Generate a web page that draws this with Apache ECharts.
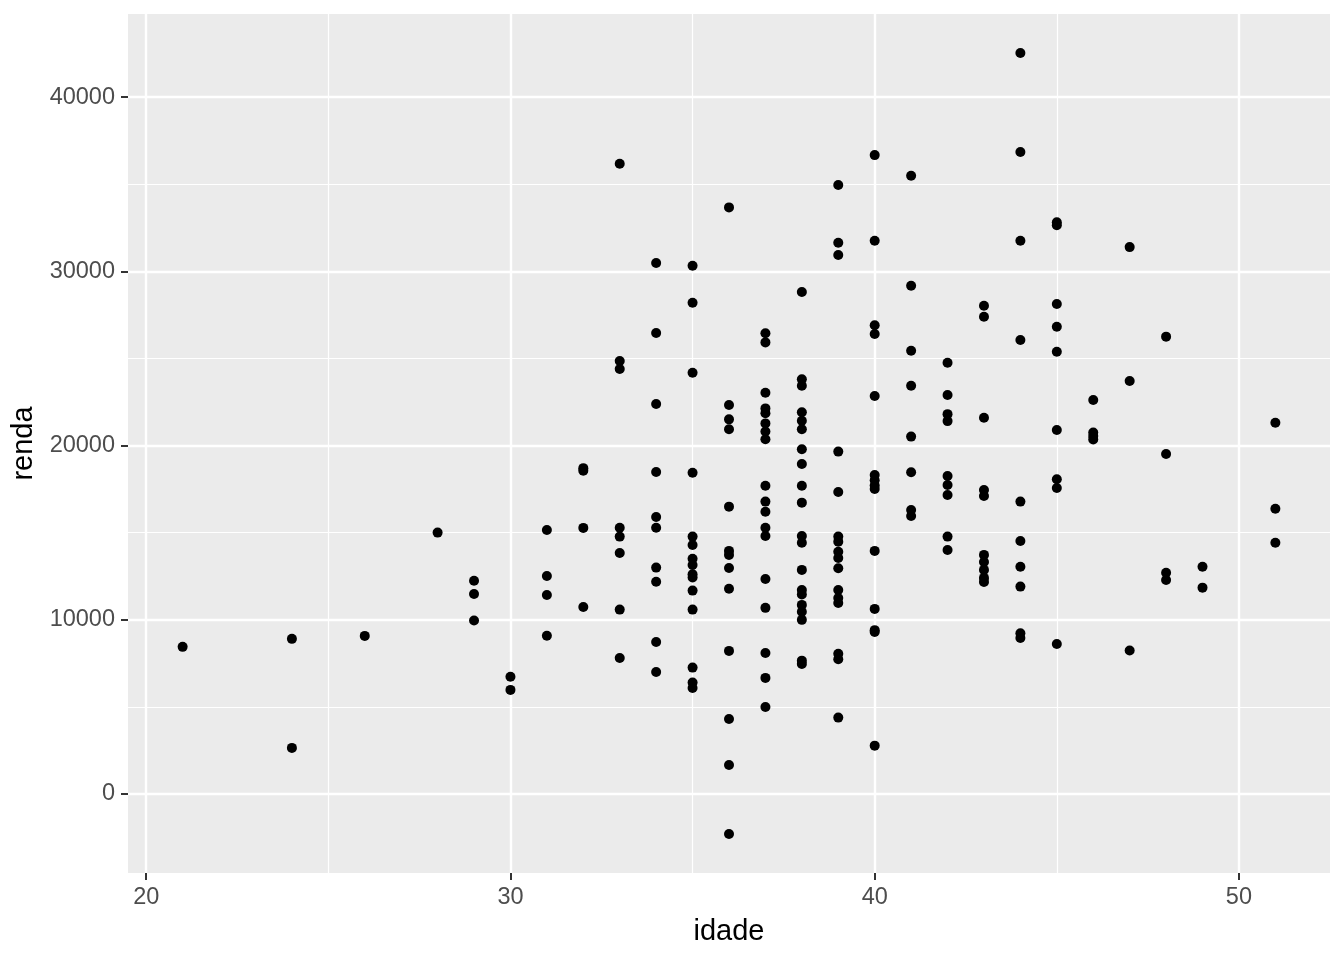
<!DOCTYPE html>
<html>
<head>
<meta charset="utf-8">
<script src="https://cdn.jsdelivr.net/npm/echarts@6/dist/echarts.min.js"></script>
<style>
  html, body { margin: 0; padding: 0; background: #ffffff; }
  #chart { width: 1344px; height: 960px; }
</style>
</head>
<body>
<div id="chart"></div>
<script>
// idade (age) groups and renda (income) values observed at each age
const idades = [21, 24, 26, 28, 29, 30, 31, 32, 33, 34, 35, 36, 37, 38, 39, 40, 41, 42, 43, 44, 45, 46, 47, 48, 49, 51];
const renda21 = [8440];
const renda24 = [8900, 2640];
const renda26 = [9070];
const renda28 = [15000];
const renda29 = [12240, 11480, 9950];
const renda30 = [6730, 5970];
const renda31 = [15150, 12510, 11420, 9080];
const renda32 = [18700, 18550, 15270, 10730];
const renda33 = [36170, 24850, 24390, 15280, 14770, 13830, 10580, 7800];
const renda34 = [30480, 26460, 22380, 18480, 15900, 15280, 12990, 12180, 8720, 7000];
const renda35 = [30320, 28200, 24180, 18440, 14770, 14290, 13500, 13140, 12610, 12420, 11670, 10580, 7250, 6390, 6080];
const renda36 = [33670, 22330, 21500, 20930, 16490, 13950, 13720, 12970, 11780, 8210, 4300, 1660, -2300];
const renda37 = [26440, 25920, 23030, 22130, 21850, 21270, 20800, 20360, 17690, 16780, 16200, 15280, 14810, 12340, 10680, 8090, 6660, 4990];
const renda38 = [28810, 23800, 23430, 21910, 21420, 20930, 19780, 18940, 17690, 16720, 14810, 14420, 12860, 11700, 11450, 10850, 10460, 9990, 7650, 7460];
const renda39 = [34950, 31640, 30940, 19650, 17330, 14770, 14480, 13900, 13540, 12950, 11710, 11250, 10960, 8040, 7730, 4380];
const renda40 = [36670, 31750, 26900, 26400, 22840, 18300, 18000, 17700, 17500, 13950, 10620, 9400, 9300, 2770];
const renda41 = [35490, 29170, 25440, 23430, 20510, 18460, 16300, 15950];
const renda42 = [24750, 22900, 21800, 21400, 18250, 17730, 17160, 14770, 14000];
const renda43 = [28020, 27390, 21590, 17450, 17100, 13720, 13310, 12860, 12400, 12170];
const renda44 = [42530, 36850, 31750, 26060, 16780, 14520, 13040, 11900, 9220, 8950];
const renda45 = [32810, 32650, 28120, 26820, 25380, 20890, 18060, 17560, 8610];
const renda46 = [22610, 20750, 20550, 20350];
const renda47 = [31390, 23700, 8230];
const renda48 = [26250, 19510, 12700, 12280];
const renda49 = [13040, 11840];
const renda51 = [21310, 16370, 14420];

const rendas = [renda21, renda24, renda26, renda28, renda29, renda30, renda31, renda32, renda33, renda34,
  renda35, renda36, renda37, renda38, renda39, renda40, renda41, renda42, renda43, renda44,
  renda45, renda46, renda47, renda48, renda49, renda51];

const xTicks = [20, 30, 40, 50];
const xMinor = [25, 35, 45];
const yTicks = [0, 10000, 20000, 30000, 40000];
const yMinor = [5000, 15000, 25000, 35000];

const points = [];
idades.forEach((age, i) => rendas[i].forEach(v => points.push([age, v])));

const FONT = "'Liberation Sans', Arial, sans-serif";
const X_MIN = 19.5, X_MAX = 52.5, Y_MIN = -4541, Y_MAX = 44771;

const chart = echarts.init(document.getElementById('chart'), null, { renderer: 'canvas' });
chart.setOption({
  animation: false,
  backgroundColor: '#ffffff',
  grid: {
    left: 128, right: 14, top: 14, bottom: 87,
    containLabel: false, outerBoundsMode: 'none',
    show: true, backgroundColor: '#EBEBEB', borderWidth: 0
  },
  xAxis: [
    {
      type: 'value', min: X_MIN, max: X_MAX,
      name: 'idade', nameLocation: 'middle', nameGap: 44,
      nameTextStyle: { fontFamily: FONT, fontSize: 29, color: '#000000' },
      axisLine: { show: false, onZero: false },
      axisTick: { show: true, customValues: xTicks, length: 7, lineStyle: { color: '#333333', width: 2 } },
      axisLabel: { customValues: xTicks, margin: 13, fontFamily: FONT, fontSize: 23.5, color: '#4D4D4D',
        formatter: v => String(v) },
      splitLine: { show: true, lineStyle: { color: '#ffffff', width: 2.4 } },
      z: 2
    },
    {
      type: 'value', min: X_MIN, max: X_MAX, position: 'bottom',
      axisLine: { show: false, onZero: false },
      axisTick: { show: false, customValues: xMinor },
      axisLabel: { show: false, customValues: xMinor },
      splitLine: { show: true, lineStyle: { color: '#ffffff', width: 1.2 } },
      z: 1
    }
  ],
  yAxis: [
    {
      type: 'value', min: Y_MIN, max: Y_MAX,
      name: 'renda', nameLocation: 'middle', nameGap: 82, nameRotate: 90,
      nameTextStyle: { fontFamily: FONT, fontSize: 29, color: '#000000' },
      axisLine: { show: false, onZero: false },
      axisTick: { show: true, customValues: yTicks, length: 7, lineStyle: { color: '#333333', width: 2 } },
      axisLabel: { customValues: yTicks, margin: 13, fontFamily: FONT, fontSize: 23.5, color: '#4D4D4D',
        formatter: v => String(v) },
      splitLine: { show: true, lineStyle: { color: '#ffffff', width: 2.4 } },
      z: 2
    },
    {
      type: 'value', min: Y_MIN, max: Y_MAX, position: 'left',
      axisLine: { show: false, onZero: false },
      axisTick: { show: false, customValues: yMinor },
      axisLabel: { show: false, customValues: yMinor },
      splitLine: { show: true, lineStyle: { color: '#ffffff', width: 1.2 } },
      z: 1
    }
  ],
  series: [
    {
      type: 'scatter',
      xAxisIndex: 0, yAxisIndex: 0,
      data: points,
      symbol: 'circle',
      symbolSize: 10,
      itemStyle: { color: '#000000', opacity: 1 },
      z: 5
    }
  ]
});
</script>
</body>
</html>
